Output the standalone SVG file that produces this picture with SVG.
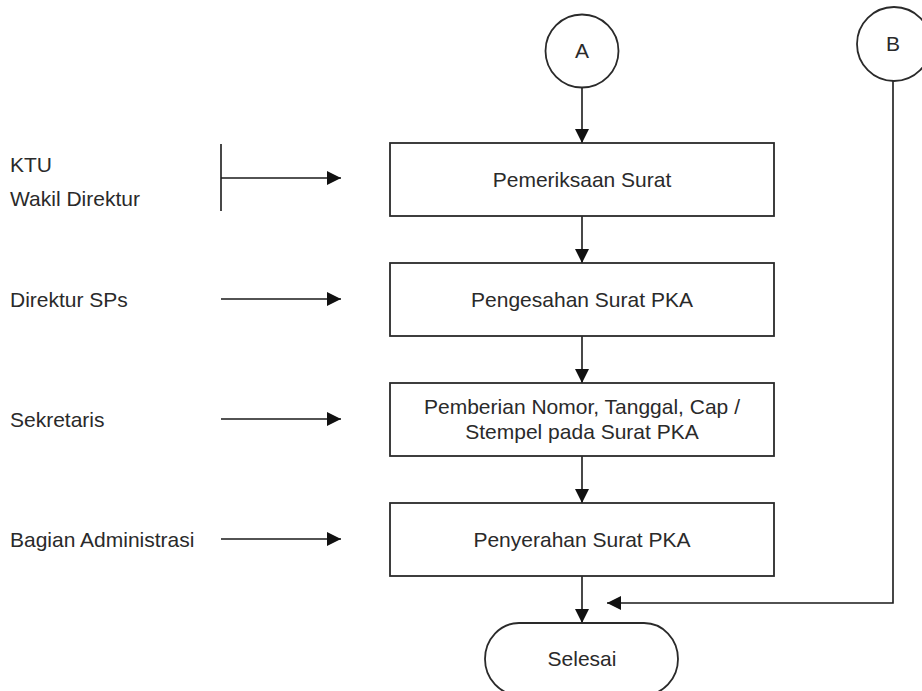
<svg xmlns="http://www.w3.org/2000/svg" width="922" height="691" viewBox="0 0 922 691">
<style>
text{font-family:"Liberation Sans",Arial,sans-serif;font-size:21px;fill:#2a2a2a}
.c{text-anchor:middle}
.box{fill:#fff;stroke:#2a2a2a;stroke-width:1.8}
.ln{fill:none;stroke:#1a1a1a;stroke-width:1.6}
</style>
<defs>
<marker id="ah" viewBox="0 0 14 14" refX="14" refY="7" markerWidth="14" markerHeight="14" markerUnits="userSpaceOnUse" orient="auto">
<path d="M0,0 L14,7 L0,14 Z" fill="#111"/>
</marker>
</defs>
<rect width="922" height="691" fill="#fff"/>
<g id="connectors">
<line class="ln" x1="582" y1="88" x2="582" y2="143" marker-end="url(#ah)"/>
<line class="ln" x1="582" y1="216" x2="582" y2="263" marker-end="url(#ah)"/>
<line class="ln" x1="582" y1="336" x2="582" y2="383" marker-end="url(#ah)"/>
<line class="ln" x1="582" y1="456" x2="582" y2="503" marker-end="url(#ah)"/>
<line class="ln" x1="582" y1="576" x2="582" y2="623" marker-end="url(#ah)"/>
<polyline class="ln" points="893,81 893,603 607,603" marker-end="url(#ah)"/>
<line class="ln" x1="221" y1="144" x2="221" y2="211"/>
<line class="ln" x1="221" y1="178" x2="341" y2="178" marker-end="url(#ah)"/>
<line class="ln" x1="221" y1="299" x2="341" y2="299" marker-end="url(#ah)"/>
<line class="ln" x1="221" y1="419" x2="341" y2="419" marker-end="url(#ah)"/>
<line class="ln" x1="221" y1="539" x2="341" y2="539" marker-end="url(#ah)"/>
</g>
<g id="nodeA">
<circle class="box" cx="582" cy="51" r="36.5"/>
<text class="c" x="582" y="58">A</text>
</g>
<g id="nodeB">
<circle class="box" cx="894" cy="44" r="37"/>
<text class="c" x="893" y="51">B</text>
</g>
<g id="box1">
<rect class="box" x="390" y="143" width="384" height="73"/>
<text class="c" x="582" y="187">Pemeriksaan Surat</text>
</g>
<g id="box2">
<rect class="box" x="390" y="263" width="384" height="73"/>
<text class="c" x="582" y="307">Pengesahan Surat PKA</text>
</g>
<g id="box3">
<rect class="box" x="390" y="383" width="384" height="73"/>
<text class="c" x="582" y="414">Pemberian Nomor, Tanggal, Cap /</text>
<text class="c" x="582" y="439">Stempel pada Surat PKA</text>
</g>
<g id="box4">
<rect class="box" x="390" y="503" width="384" height="73"/>
<text class="c" x="582" y="547">Penyerahan Surat PKA</text>
</g>
<g id="selesai">
<rect class="box" x="485" y="623" width="193" height="72" rx="34" ry="36"/>
<text class="c" x="582" y="666">Selesai</text>
</g>
<g id="actor-ktu">
<text x="10" y="172">KTU</text>
<text x="10" y="206">Wakil Direktur</text>
</g>
<g id="actor-direktur">
<text x="10" y="307">Direktur SPs</text>
</g>
<g id="actor-sekretaris">
<text x="10" y="427">Sekretaris</text>
</g>
<g id="actor-admin">
<text x="10" y="547">Bagian Administrasi</text>
</g>
</svg>
